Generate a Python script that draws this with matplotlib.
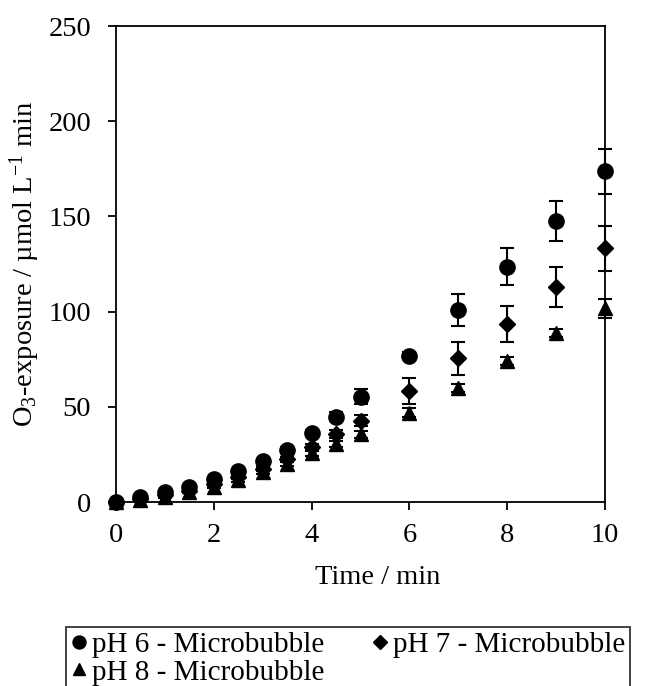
import matplotlib.pyplot as plt
from matplotlib.lines import Line2D

time_min = [0, 0.5, 1, 1.5, 2, 2.5, 3, 3.5, 4, 4.5, 5, 6, 7, 8, 9, 10]

ph6 = [0, 2.5, 5, 8, 12, 16.5, 21.5, 27.5, 36.3, 44.8, 55.3, 76.9, 100.8, 123.6, 147.6, 173.8]
ph6_err = [0.5, 0.5, 0.5, 0.7, 0.8, 1, 1, 1.2, 1.5, 2.5, 4, 2, 8.3, 9.6, 10.4, 11.8]

ph7 = [0, 1.5, 3.5, 6, 9.5, 13, 17.5, 22.5, 29, 35.7, 42.7, 58.3, 75.5, 93.5, 113.1, 133.3]
ph7_err = [0.3, 0.4, 0.5, 0.6, 0.8, 1, 1, 1.2, 1.5, 2, 3, 7, 8.6, 9.6, 10.5, 11.8]

ph8 = [0, 1, 2.5, 5, 8, 11.5, 15.5, 20, 25.5, 30.5, 35.5, 47, 60, 74.2, 88.6, 101.7]
ph8_err = [0.3, 0.3, 0.4, 0.5, 0.6, 0.8, 1, 1, 1.2, 1.5, 2, 2.5, 2, 2, 2, 5]

labels = ["pH 6 - Microbubble", "pH 7 - Microbubble", "pH 8 - Microbubble"]

FS = 20.5
plt.rcParams["font.family"] = ["Liberation Serif", "DejaVu Serif"]
plt.rcParams["font.size"] = FS
plt.rcParams["mathtext.fontset"] = "custom"
plt.rcParams["mathtext.rm"] = "Liberation Serif"
plt.rcParams["mathtext.it"] = "Liberation Serif:italic"

fig = plt.figure(figsize=(6.56, 6.86), dpi=100)
ax = fig.add_axes([116 / 656, 1 - 502 / 686, 489 / 656, 476 / 686])

series = [(ph6, ph6_err, "o", 11), (ph7, ph7_err, "D", 8.5), (ph8, ph8_err, "^", 10.5)]
proxies = []
for (vals, errs, marker, ms), label in zip(series, labels):
    ax.errorbar(time_min, vals, yerr=errs, fmt=marker, color="black",
                markersize=ms, ecolor="black", elinewidth=1.5, capsize=5,
                capthick=1.5, clip_on=False, zorder=3)
    proxies.append(Line2D([], [], linestyle="none", marker=marker, color="black",
                          markersize=ms * 0.85))

ax.set_xlim(0, 10)
ax.set_ylim(0, 250)
ax.set_xticks([0, 2, 4, 6, 8, 10])
ax.set_yticks([0, 50, 100, 150, 200, 250])
ax.tick_params(direction="out", length=6, width=1.3, labelsize=FS)
ax.tick_params(axis="y", pad=12)
ax.tick_params(axis="x", pad=9)
for s in ax.spines.values():
    s.set_linewidth(1.3)

ax.set_xlabel("Time / min", fontsize=FS)
ax.xaxis.set_label_coords((378 - 116) / 489, -(578 - 502) / 476, transform=ax.transAxes)
ax.xaxis.label.set_va("center")
ax.set_ylabel("O$_3$-exposure / µmol L$^{-1}$ min", fontsize=FS)
ax.yaxis.set_label_coords(-(116 - 25) / 489, 0.5, transform=ax.transAxes)
ax.yaxis.label.set_va("center")

# legend filled row by row: pH 6, pH 7 on top, pH 8 below
order = [0, 2, 1]
leg = fig.legend(handles=[proxies[i] for i in order], labels=[labels[i] for i in order],
                 loc="upper left", bbox_to_anchor=(66 / 656, 1 - 627 / 686),
                 borderaxespad=0, ncol=2, frameon=True, fancybox=False,
                 edgecolor="black", fontsize=21, handlelength=0.6,
                 handletextpad=0.15, columnspacing=1.6, borderpad=0.15,
                 labelspacing=0.05)
leg.get_frame().set_linewidth(1.3)

fig.savefig("out.png", dpi=100)
